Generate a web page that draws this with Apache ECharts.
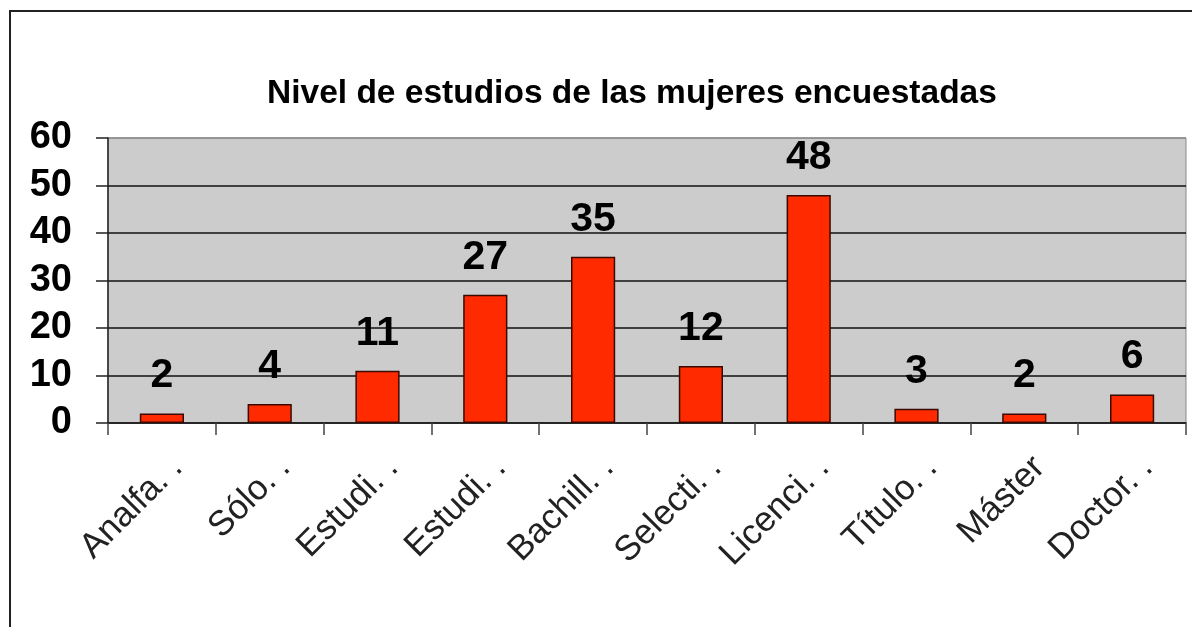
<!DOCTYPE html>
<html>
<head>
<meta charset="utf-8">
<script src="https://cdn.jsdelivr.net/npm/echarts@6/dist/echarts.min.js"></script>
<style>
  html, body { margin: 0; padding: 0; background: #fff; }
  #chart { width: 1192px; height: 627px; }
</style>
</head>
<body>
<div id="chart"></div>
<script>
const categories = ['Analfa. .', 'Sólo. .', 'Estudi. .', 'Estudi. .', 'Bachill. .', 'Selecti. .', 'Licenci. .', 'Título. .', 'Máster', 'Doctor. .']
const values = [2, 4, 11, 27, 35, 12, 48, 3, 2, 6]
const yTicks = { min: 0, max: 60, interval: 10 }

const chart = echarts.init(document.getElementById('chart'))

chart.setOption({
  animation: false,
  title: {
    text: 'Nivel de estudios de las mujeres encuestadas',
    left: 262,
    top: 72,
    textStyle: {
      fontFamily: 'Liberation Sans',
      fontSize: 33.5,
      fontWeight: 'bold',
      color: '#000'
    }
  },
  graphic: [{
    type: 'rect',
    shape: { x: 10, y: 11, width: 1300, height: 700 },
    style: { fill: 'none', stroke: '#222', lineWidth: 2 },
    silent: true
  }],
  grid: {
    left: 108,
    top: 138,
    right: 6,
    bottom: 204,
    show: true,
    backgroundColor: '#cccccc',
    borderColor: '#8a8a8a',
    borderWidth: 1
  },
  xAxis: {
    type: 'category',
    data: categories,
    axisLine: { lineStyle: { color: '#222', width: 1.5 } },
    axisTick: { show: true, length: 12, lineStyle: { color: '#444', width: 1.5 } },
    axisLabel: {
      rotate: 45,
      interval: 0,
      margin: 24,
      fontFamily: 'Liberation Sans',
      fontSize: 35,
      color: '#222',
      verticalAlign: 'top',
      padding: [4, 0, 0, 0]
    }
  },
  yAxis: {
    type: 'value',
    min: yTicks.min,
    max: yTicks.max,
    interval: yTicks.interval,
    axisLine: { show: true, lineStyle: { color: '#222', width: 1.5 } },
    axisTick: { show: true, length: 12, lineStyle: { color: '#222', width: 1.5 } },
    axisLabel: {
      margin: 36,
      fontFamily: 'Liberation Sans',
      fontSize: 38,
      fontWeight: 'bold',
      color: '#000'
    },
    splitLine: {
      lineStyle: {
        color: ['#111', '#111', '#111', '#111', '#111', '#111', '#8a8a8a'],
        width: 1.5
      }
    }
  },
  series: [{
    type: 'bar',
    data: values,
    barWidth: '41%',
    itemStyle: {
      color: '#ff2a00',
      borderColor: '#3a0a00',
      borderWidth: 1.5
    },
    label: {
      show: true,
      position: 'top',
      distance: 17,
      fontFamily: 'Liberation Sans',
      fontSize: 41,
      fontWeight: 'bold',
      color: '#000'
    }
  }]
})
</script>
</body>
</html>
